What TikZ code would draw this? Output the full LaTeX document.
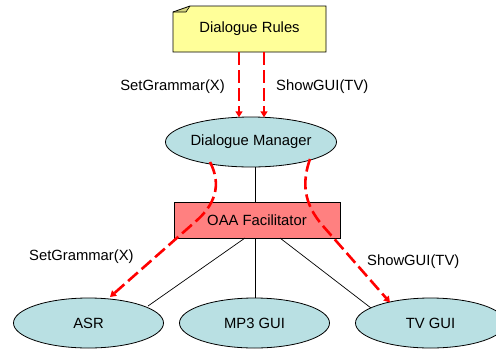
\documentclass[tikz,border=0pt]{standalone}
\usepackage{fontspec}
\setmainfont{Liberation Sans}
\usetikzlibrary{arrows.meta,shapes.geometric}
\definecolor{notefill}{HTML}{FFFF99}
\definecolor{notefold}{HTML}{D6D680}
\definecolor{agentfill}{HTML}{B9E0E3}
\definecolor{facfill}{HTML}{FF8080}
\definecolor{msgred}{HTML}{FF0000}
\begin{document}
\begin{tikzpicture}[x=1pt,y=-1pt,
  font=\fontsize{14.8}{17}\selectfont,
  agent/.style={ellipse,draw=black,line width=0.8pt,fill=agentfill,
    minimum width=150pt,minimum height=50pt,inner sep=0pt},
  facbox/.style={rectangle,draw=black,line width=0.8pt,fill=facfill,
    minimum width=166pt,minimum height=36pt,inner sep=0pt},
  link/.style={draw=black,line width=0.7pt},
  msg/.style={draw=msgred,line width=2.6pt,dash pattern=on 13pt off 5pt,
    -{Triangle[length=6pt,width=7pt]}},
  msglabel/.style={inner sep=0pt}]
\useasboundingbox (0,0) rectangle (496,349);
\clip (0,0) rectangle (496,349);

% note with folded corner
\fill[notefill] (173,12) -- (190,6) -- (326,6) -- (326,52) -- (173,52) -- cycle;
\fill[notefold] (173,12) -- (190,6) -- (186,12) -- cycle;
\draw[black,line width=0.8pt] (173,12) -- (190,6) -- (326,6) -- (326,52) -- (173,52) -- cycle;
\draw[black,line width=0.6pt] (173,12) -- (186,12) -- (190,6);
\node[inner sep=0pt] (rules) at (249.5,29) {Dialogue Rules};
\coordinate (rulesS) at (249.5,52);

% agents
\node[agent] (dm) at (251,142) {Dialogue Manager};
\node[facbox] (oaa) at (257,220) {OAA Facilitator};
\node[agent] (asr) at (88.5,323) {ASR};
\node[agent] (mp3) at (254.5,323) {MP3 GUI};
\node[agent] (tv) at (430.5,323) {TV GUI};

% facilitator links
\draw[link] (dm.south -| 255,0) -- (oaa.north -| 255,0);
\draw[link] (245,238) -- (148,306);
\draw[link] (oaa.south -| 255,0) -- (mp3.north -| 255,0);
\draw[link] (280,238) -- (371,308);

% messages from the rule note to the dialogue manager
\draw[msg] (rulesS -| 239,0) -- (239,117.3);
\draw[msg] (rulesS -| 264,0) -- (264,117.3);
\node[msglabel,anchor=east] (l1) at (225,87) {SetGrammar(X)};
\node[msglabel,anchor=west] (l2) at (276,87) {ShowGUI(TV)};

% messages routed through the facilitator
\coordinate (dmL) at (210,162);
\coordinate (dmR) at (310,159);
\draw[msg] (dmL) .. controls (222,185) and (215,205) .. (195,222) -- (110,297);
\draw[msg] (dmR) .. controls (302,182) and (303,203) .. (323,226) -- (390,302.5);
\node[msglabel,anchor=west] (l3) at (29,257) {SetGrammar(X)};
\node[msglabel,anchor=west] (l4) at (367,262) {ShowGUI(TV)};
\end{tikzpicture}
\end{document}
